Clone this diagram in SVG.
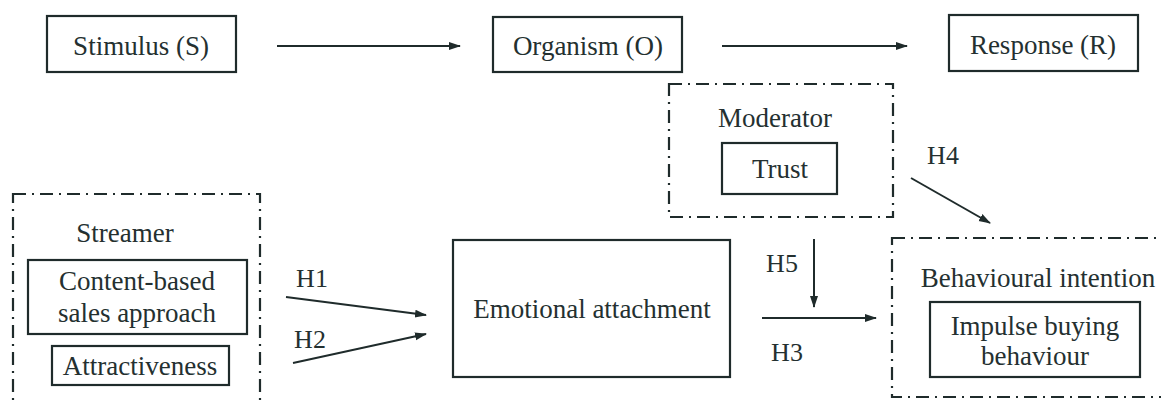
<svg xmlns="http://www.w3.org/2000/svg" width="1161" height="405" viewBox="0 0 1161 405">
<defs>
<style>
.box{fill:none;stroke:#1f2b2b;stroke-width:2.2}
.grp{fill:none;stroke:#1f2b2b;stroke-width:2.2;stroke-dasharray:13 6 2 6}
.c{fill:none;stroke:#1f2b2b;stroke-width:2}
</style>
<marker id="ah" markerUnits="userSpaceOnUse" markerWidth="12" markerHeight="10" refX="11" refY="5" orient="auto">
<path d="M0,1 L12,5 L0,9 Z" fill="#1f2b2b"/>
</marker>
</defs>
<rect width="1161" height="405" fill="#fff"/>
<g id="stimulus"><rect class="box" x="47" y="16" width="189" height="56"/><text x="141" y="55" style="font-family:'Liberation Serif';font-size:27px;fill:#243030;text-anchor:middle">Stimulus (S)</text></g>
<g id="organism"><rect class="box" x="493" y="17" width="189" height="55"/><text x="588" y="55" style="font-family:'Liberation Serif';font-size:27px;fill:#243030;text-anchor:middle">Organism (O)</text></g>
<g id="response"><rect class="box" x="949" y="15" width="189" height="56"/><text x="1043" y="54" style="font-family:'Liberation Serif';font-size:27px;fill:#243030;text-anchor:middle">Response (R)</text></g>
<g id="moderator"><rect class="grp" x="669" y="84" width="224" height="133"/><text x="775" y="127" style="font-family:'Liberation Serif';font-size:27px;fill:#243030;text-anchor:middle">Moderator</text>
<g id="trust"><rect class="box" x="722" y="143" width="115" height="51"/><text x="780" y="178" style="font-family:'Liberation Serif';font-size:27px;fill:#243030;text-anchor:middle">Trust</text></g></g>
<g id="streamer"><rect class="grp" x="13" y="194" width="247" height="230"/><text x="125" y="242" style="font-family:'Liberation Serif';font-size:27px;fill:#243030;text-anchor:middle">Streamer</text>
<g id="content"><rect class="box" x="28" y="260" width="219" height="74"/><text x="137" y="290" style="font-family:'Liberation Serif';font-size:27px;fill:#243030;text-anchor:middle">Content-based</text><text x="137" y="322" style="font-family:'Liberation Serif';font-size:27px;fill:#243030;text-anchor:middle">sales approach</text></g>
<g id="attract"><rect class="box" x="52" y="346" width="177" height="39"/><text x="140" y="375" style="font-family:'Liberation Serif';font-size:27px;fill:#243030;text-anchor:middle">Attractiveness</text></g></g>
<g id="emotional"><rect class="box" x="453" y="240" width="277" height="137"/><text x="592" y="318" style="font-family:'Liberation Serif';font-size:27px;fill:#243030;text-anchor:middle">Emotional attachment</text></g>
<g id="behavioural"><rect class="grp" x="892" y="238" width="290" height="159"/><text x="1038" y="287" style="font-family:'Liberation Serif';font-size:27px;fill:#243030;text-anchor:middle">Behavioural intention</text>
<g id="impulse"><rect class="box" x="930" y="302" width="210" height="75"/><text x="1035" y="335" style="font-family:'Liberation Serif';font-size:27px;fill:#243030;text-anchor:middle">Impulse buying</text><text x="1035" y="365" style="font-family:'Liberation Serif';font-size:27px;fill:#243030;text-anchor:middle">behaviour</text></g></g>
<g id="connectors">
<line class="c" x1="277" y1="46" x2="460" y2="46" marker-end="url(#ah)"/>
<line class="c" x1="722" y1="46" x2="907" y2="46" marker-end="url(#ah)"/>
<line class="c" x1="286" y1="297" x2="426" y2="315" marker-end="url(#ah)"/>
<line class="c" x1="293" y1="363" x2="426" y2="334" marker-end="url(#ah)"/>
<line class="c" x1="762" y1="318" x2="876" y2="318" marker-end="url(#ah)"/>
<line class="c" x1="814" y1="239" x2="814" y2="307" marker-end="url(#ah)"/>
<line class="c" x1="911" y1="178" x2="990" y2="223" marker-end="url(#ah)"/>
<text x="312" y="287" style="font-family:'Liberation Serif';font-size:26px;fill:#243030;text-anchor:middle">H1</text>
<text x="310" y="348" style="font-family:'Liberation Serif';font-size:26px;fill:#243030;text-anchor:middle">H2</text>
<text x="787" y="361" style="font-family:'Liberation Serif';font-size:26px;fill:#243030;text-anchor:middle">H3</text>
<text x="943" y="164" style="font-family:'Liberation Serif';font-size:26px;fill:#243030;text-anchor:middle">H4</text>
<text x="782" y="272" style="font-family:'Liberation Serif';font-size:26px;fill:#243030;text-anchor:middle">H5</text>
</g>
</svg>
